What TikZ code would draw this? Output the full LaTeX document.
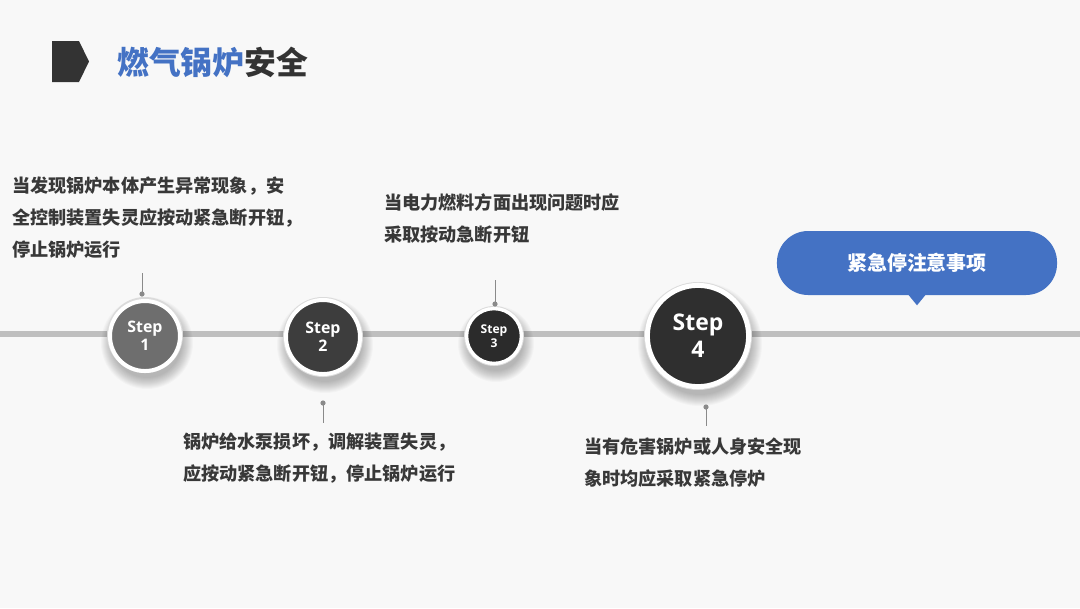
\documentclass[tikz,border=0pt]{standalone}
\usepackage{fontspec}
\newfontfamily\cjk{Noto Sans CJK SC}
\newfontfamily\stepf{Open Sans}
\usetikzlibrary{calc}
\definecolor{bgc}{HTML}{F8F8F8}
\definecolor{darkc}{HTML}{333333}
\definecolor{textc}{HTML}{383838}
\definecolor{bluec}{HTML}{4472C4}
\definecolor{barc}{HTML}{BFBFBF}
\definecolor{connc}{HTML}{8A8A8A}
\definecolor{c1}{HTML}{6E6E6E}
\definecolor{c2}{HTML}{3D3D3D}
\definecolor{c3}{HTML}{2B2B2B}
\definecolor{c4}{HTML}{2F2F2F}
\newcommand\softshadow[3]{%
  \foreach \k in {1,...,12} {\fill[black,opacity=0.022] (#1+2,#2+8) circle[radius=#3+10-\k];}%
  \fill[black!14] (#1,#2) circle[radius=#3+1];}
\begin{document}
\begin{tikzpicture}[x=0.025cm,y=-0.025cm,
  stepc/.style={circle, draw=white, text=white, align=center, inner sep=0pt},
  body/.style={anchor=west, align=left, inner sep=0pt, text=textc,
    font=\cjk\bfseries\fontsize{12.9pt}{22.8pt}\selectfont},
  conn/.style={draw=connc, line width=0.7pt},
  dotf/.style={fill=connc}]
\useasboundingbox (0,0) rectangle (1080,608);
\fill[bgc] (0,0) rectangle (1080,608);

% title
\fill[darkc] (52,41) -- (79,41) -- (89,61.5) -- (79,82) -- (52,82) -- cycle;
\node[anchor=west, inner sep=0pt, text=darkc] (title) at (117,62)
  {\cjk\bfseries\fontsize{22.6pt}{26pt}\selectfont\textcolor{bluec}{燃气锅炉}安全};

% timeline
\fill[barc] (0,331) rectangle (1080,337);

% shadows and circles
\softshadow{145}{335}{37}
\softshadow{323}{337}{39}
\softshadow{494}{336}{29}
\softshadow{698}{336}{53}

\node[stepc, fill=c1, minimum size=1.75cm, line width=2.85pt,
  font=\stepf\bfseries\fontsize{11.3pt}{12.8pt}\selectfont] (s1) at (145,336) {Step\\1};
\node[stepc, fill=c2, minimum size=1.85cm, line width=2.85pt,
  font=\stepf\bfseries\fontsize{11.3pt}{12.8pt}\selectfont] (s2) at (323,337) {Step\\2};
\node[stepc, fill=c3, minimum size=1.37cm, line width=2.4pt,
  font=\stepf\bfseries\fontsize{8.6pt}{9.6pt}\selectfont] (s3) at (494,336) {Step\\3};
\node[stepc, fill=c4, minimum size=2.53cm, line width=3.5pt,
  font=\stepf\bfseries\fontsize{16.3pt}{19pt}\selectfont] (s4) at (698,336) {Step\\4};

% connectors
\coordinate (d1) at (142,294); \coordinate (e1) at (142,273);
\coordinate (d2) at (323,403); \coordinate (e2) at (323,423);
\coordinate (d3) at (495,304); \coordinate (e3) at (495,280);
\coordinate (d4) at (706,407); \coordinate (e4) at (706,426);
\draw[conn] (d1) -- (e1); \fill[dotf] (d1) circle[radius=2.6];
\draw[conn] (d2) -- (e2); \fill[dotf] (d2) circle[radius=2.6];
\draw[conn] (d3) -- (e3); \fill[dotf] (d3) circle[radius=2.6];
\draw[conn] (d4) -- (e4); \fill[dotf] (d4) circle[radius=2.6];

% texts
\node[body] (t1) at (12,218) {当发现锅炉本体产生异常现象，安\\全控制装置失灵应按动紧急断开钮，\\停止锅炉运行};
\node[body] (t2) at (183,458) {锅炉给水泵损坏，调解装置失灵，\\应按动紧急断开钮，停止锅炉运行};
\node[body] (t3) at (384,219) {当电力燃料方面出现问题时应\\采取按动急断开钮};
\node[body] (t4) at (584,463) {当有危害锅炉或人身安全现\\象时均应采取紧急停炉};

% callout
\node[fill=bluec, rounded corners=0.78cm, minimum width=7cm, minimum height=1.6cm,
  inner sep=0pt, text=white] (callout) at (917,263)
  {\cjk\bfseries\fontsize{14.2pt}{17pt}\selectfont 紧急停注意事项};
\fill[bluec] ($(callout.south)+(-9,-1)$) -- ($(callout.south)+(0,10)$) -- ($(callout.south)+(9,-1)$) -- cycle;
\end{tikzpicture}
\end{document}
